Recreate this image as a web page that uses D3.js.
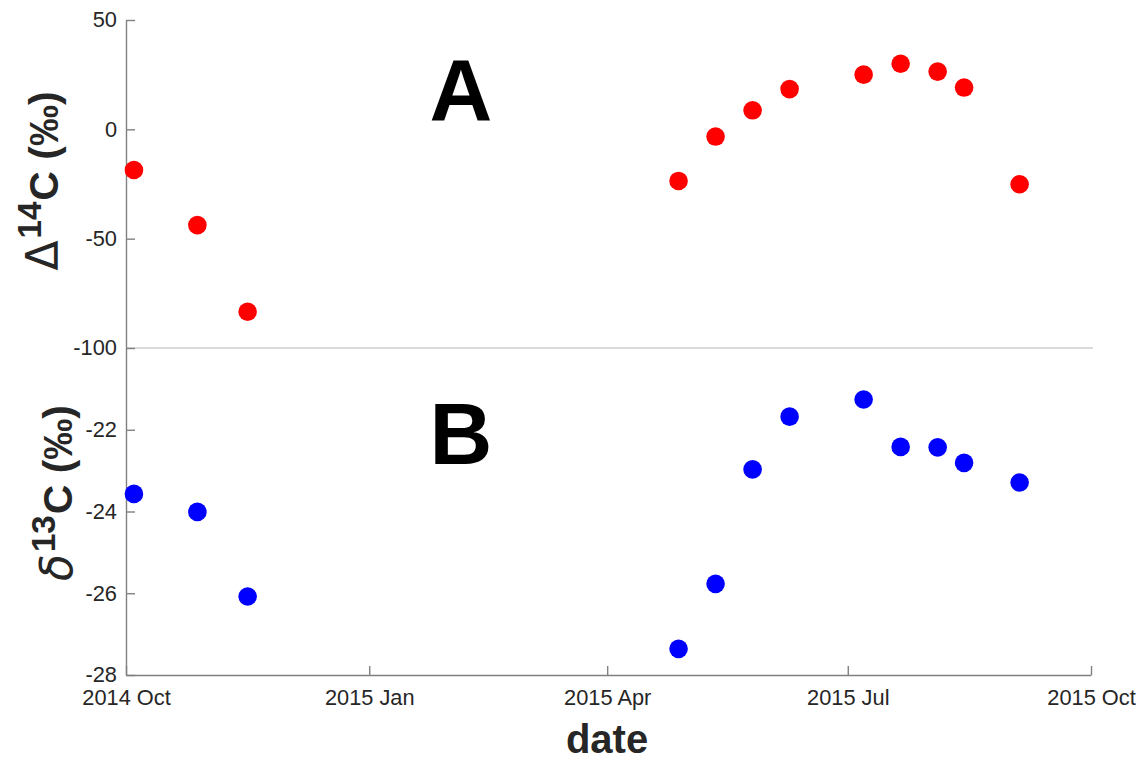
<!DOCTYPE html>
<html>
<head>
<meta charset="utf-8">
<script src="https://cdn.jsdelivr.net/npm/d3@7"></script>
<style>
  html, body { margin: 0; padding: 0; background: #fff; }
  svg { display: block; }
  text { font-family: "Liberation Sans", Arial, Helvetica, sans-serif; }
</style>
</head>
<body>
<svg id="chart" width="1143" height="762"></svg>
<script>
// Sampling dates (shared by both panels)
const sampleDates = [
  "2014-10-04", "2014-10-28", "2014-11-16",
  "2015-04-28", "2015-05-12", "2015-05-26", "2015-06-09",
  "2015-07-07", "2015-07-21", "2015-08-04", "2015-08-14", "2015-09-04"
];
// Δ14C (‰), panel A
const delta14C = [-18.6, -43.8, -83.4, -23.6, -3.3, 8.7, 18.4, 25.0, 30.0, 26.4, 19.1, -25.1];
// δ13C (‰), panel B
const delta13C = [-23.57, -24.01, -26.08, -27.36, -25.77, -22.97, -21.68, -21.26, -22.42, -22.43, -22.81, -23.29];

const xDomain = ["2014-10-01", "2015-10-01"];
const xTicks = ["2014-10-01", "2015-01-01", "2015-04-01", "2015-07-01", "2015-10-01"];
const yTicksA = [-100, -50, 0, 50];
const yTicksB = [-28, -26, -24, -22];

const parse = d3.utcParse("%Y-%m-%d");
const svg = d3.select("#chart");

const plotLeft = 126, plotRight = 1091, plotTop = 20, plotMid = 348, plotBottom = 675;
const axisColor = "#808080", textColor = "#262626";

const x = d3.scaleUtc().domain(xDomain.map(parse)).range([plotLeft, plotRight]);
const yA = d3.scaleLinear().domain([-100, 50]).range([plotMid, plotTop]);
const yB = d3.scaleLinear().domain([-28, -20]).range([plotBottom, plotMid]);

// divider between the two panels
svg.append("line")
  .attr("x1", plotLeft).attr("x2", 1093)
  .attr("y1", plotMid).attr("y2", plotMid)
  .attr("stroke", "#cfcfcf").attr("stroke-width", 1.5);

function styleAxis(g) {
  g.selectAll("path.domain").attr("stroke", axisColor).attr("stroke-width", 1.4);
  g.selectAll(".tick line").attr("stroke", axisColor).attr("stroke-width", 1.4);
  g.selectAll(".tick text")
    .attr("fill", textColor)
    .style("font-size", "21.8px")
    .style("font-family", "'Liberation Sans', Arial, sans-serif");
}

// plain hyphen-minus for negative tick labels
const plainNum = d => String(d);

// left axes
svg.append("g").attr("transform", `translate(${plotLeft},0)`)
  .call(d3.axisLeft(yA).tickValues(yTicksA).tickFormat(plainNum)
    .tickSizeInner(-9).tickSizeOuter(0).tickPadding(9))
  .call(styleAxis);
svg.append("g").attr("transform", `translate(${plotLeft},0)`)
  .call(d3.axisLeft(yB).tickValues(yTicksB).tickFormat(plainNum)
    .tickSizeInner(-9).tickSizeOuter(0).tickPadding(9))
  .call(styleAxis);

// bottom date axis
svg.append("g").attr("transform", `translate(0,${plotBottom})`)
  .call(d3.axisBottom(x).tickValues(xTicks.map(parse))
    .tickFormat(d3.utcFormat("%Y %b")).tickSizeInner(-9).tickSizeOuter(0).tickPadding(15))
  .call(styleAxis);

// points
const ptsA = sampleDates.map((d, i) => ({ date: parse(d), v: delta14C[i] }));
const ptsB = sampleDates.map((d, i) => ({ date: parse(d), v: delta13C[i] }));

svg.append("g").selectAll("circle").data(ptsA).join("circle")
  .attr("cx", d => x(d.date)).attr("cy", d => yA(d.v))
  .attr("r", 9.3).attr("fill", "#ff0000");

svg.append("g").selectAll("circle").data(ptsB).join("circle")
  .attr("cx", d => x(d.date)).attr("cy", d => yB(d.v))
  .attr("r", 9.3).attr("fill", "#0000ff");

// panel letters
svg.append("text").attr("x", 461).attr("y", 120).attr("text-anchor", "middle")
  .style("font-size", "87px").style("font-weight", "bold").attr("fill", "#000").text("A");
svg.append("text").attr("x", 461).attr("y", 464).attr("text-anchor", "middle")
  .style("font-size", "87px").style("font-weight", "bold").attr("fill", "#000").text("B");

// x-axis title
svg.append("text").attr("x", 607).attr("y", 753).attr("text-anchor", "middle")
  .style("font-size", "40px").style("font-weight", "bold").attr("fill", textColor).text("date");

// y-axis titles with superscripted isotope mass numbers
function yTitle(cx, cy, symbol, mass, italic) {
  const t = svg.append("text")
    .attr("transform", `translate(${cx},${cy}) rotate(-90)`)
    .attr("text-anchor", "middle")
    .style("font-size", "41px").style("font-weight", "bold").attr("fill", textColor);
  t.append("tspan").text(symbol)
    .style("font-size", "44px")
    .style("font-weight", "normal")
    .style("font-style", italic ? "italic" : "normal")
    .style("font-family", "'DejaVu Sans', sans-serif");
  t.append("tspan").attr("dy", -17).attr("dx", 2).style("font-size", "33px").text(mass);
  t.append("tspan").attr("dy", 17).attr("dx", 1).text("C (‰)");
}
yTitle(58, 181, "Δ", "14", false);
yTitle(72, 493, "δ", "13", true);
</script>
</body>
</html>
